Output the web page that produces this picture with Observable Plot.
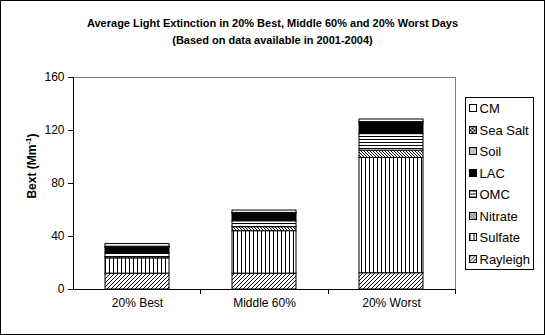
<!DOCTYPE html>
<html><head><meta charset="utf-8">
<script src="https://cdn.jsdelivr.net/npm/d3@7"></script>
<script src="https://cdn.jsdelivr.net/npm/@observablehq/plot@0.6"></script>
<style>
body{margin:0;background:#fff;font-family:"Liberation Sans",Arial,sans-serif;}
#wrap{position:relative;width:545px;height:335px;box-sizing:border-box;border:1px solid #000;background:#fff;overflow:hidden;}
#title{height:54px;text-align:center;font-weight:bold;font-size:11px;line-height:17px;padding-top:14px;box-sizing:border-box;color:#000;}
#chart svg{display:block;}
</style></head><body>
<div id="wrap"><div id="title">Average Light Extinction in 20% Best, Middle 60% and 20% Worst Days<br>(Based on data available in 2001-2004)</div><div id="chart"></div></div>
<script>
const categories = ["20% Best", "Middle 60%", "20% Worst"];
const components = ["Rayleigh", "Sulfate", "Nitrate", "OMC", "LAC", "Soil", "Sea Salt", "CM"];
const rayleigh = [12, 12, 12.3];
const sulfate  = [11.5, 32, 87];
const nitrate  = [1, 3, 5.5];
const omc      = [3, 4.5, 12.5];
const lac      = [4, 5.5, 8];
const soil     = [0.5, 0.5, 0.7];
const seaSalt  = [0.3, 0.3, 0.3];
const cm       = [2, 1.8, 2];
const yTicks   = [0, 40, 80, 120, 160];

const seriesValues = {"Rayleigh": rayleigh, "Sulfate": sulfate, "Nitrate": nitrate, "OMC": omc,
  "LAC": lac, "Soil": soil, "Sea Salt": seaSalt, "CM": cm};
const fills = {"Rayleigh": "url(#p-ray)", "Sulfate": "url(#p-sul)", "Nitrate": "url(#p-nit)", "OMC": "url(#p-omc)",
  "LAC": "#000", "Soil": "url(#p-soil)", "Sea Salt": "url(#p-salt)", "CM": "#fff"};

const rows = [];
categories.forEach((c, i) => components.forEach(k => rows.push({category: c, component: k, value: seriesValues[k][i], fill: fills[k]})));

const W = 543, H = 278, ML = 72, MR = 89, MT = 22, MB = 44;
const plot = Plot.plot({
  width: W, height: H,
  marginLeft: ML, marginRight: MR, marginTop: MT, marginBottom: MB,
  style: {fontFamily: "'Liberation Sans', Arial, sans-serif", fontSize: "12px", color: "#000", background: "#fff"},
  x: {domain: categories, paddingInner: 0.5, paddingOuter: 0.25, label: null, tickSize: 0, tickPadding: 9},
  y: {domain: [0, 160], ticks: yTicks, tickSize: 5, tickPadding: 4, label: null, tickFormat: d => d},
  color: {type: "identity"},
  marks: [
    Plot.frame({stroke: "#808080"}),
    Plot.barY(rows, Plot.stackY({x: "category", y: "value", z: "component", fill: "fill", stroke: "#000", strokeWidth: 1})),
    Plot.ruleY([0], {stroke: "#000"})
  ]
});
document.getElementById("chart").appendChild(plot);

const svg = d3.select(plot);
const defs = svg.insert("defs", ":first-child");
function pat(id, w, h, draw) {
  const p = defs.append("pattern").attr("id", id).attr("patternUnits", "userSpaceOnUse").attr("width", w).attr("height", h);
  p.append("rect").attr("width", w).attr("height", h).attr("fill", "#fff");
  draw(p);
}
pat("p-ray", 4, 4, p => p.append("path").attr("d", "M0,4L4,0M-1,1L1,-1M3,5L5,3").attr("stroke", "#000").attr("stroke-width", 1));
pat("p-sul", 4, 4, p => p.append("rect").attr("x", 0).attr("y", 0).attr("width", 1).attr("height", 4).attr("fill", "#000"));
pat("p-nit", 3, 3, p => p.append("path").attr("d", "M0,0L3,3M2,-1L4,1M-1,2L1,4").attr("stroke", "#000").attr("stroke-width", 1));
pat("p-omc", 4, 3, p => p.append("rect").attr("x", 0).attr("y", 0).attr("width", 4).attr("height", 1).attr("fill", "#000"));
pat("p-soil", 2, 2, p => p.append("rect").attr("x", 0).attr("y", 0).attr("width", 1).attr("height", 1).attr("fill", "#000"));
pat("p-salt", 4, 4, p => { p.append("rect").attr("width", 2).attr("height", 2).attr("fill", "#000"); p.append("rect").attr("x", 2).attr("y", 2).attr("width", 2).attr("height", 2).attr("fill", "#000"); });

const x0 = ML, x1 = W - MR, y0 = H - MB, y1 = MT;
// y axis line
svg.append("line").attr("x1", x0 + 0.5).attr("x2", x0 + 0.5).attr("y1", y1).attr("y2", y0).attr("stroke", "#000");
// x tick marks at category boundaries
const step = (x1 - x0) / categories.length;
for (let k = 1; k <= categories.length; k++) {
  const xx = Math.round(x0 + k * step) + 0.5;
  svg.append("line").attr("x1", xx).attr("x2", xx).attr("y1", y0).attr("y2", y0 + 5).attr("stroke", "#000");
}
// y axis title
const yt = svg.append("text").attr("transform", "translate(35,111) rotate(-90)").attr("text-anchor", "middle")
  .attr("font-weight", "bold").attr("font-size", 12).attr("fill", "#000");
yt.append("tspan").text("Bext (Mm");
yt.append("tspan").attr("font-size", 8).attr("dy", -5).text("-1");
yt.append("tspan").attr("dy", 5).text(")");

// legend
const lg = svg.append("g").attr("transform", "translate(464.5,42.5)").attr("text-anchor", "start");
lg.append("rect").attr("width", 68).attr("height", 172).attr("fill", "#fff").attr("stroke", "#000");
components.slice().reverse().forEach((k, i) => {
  const cy = 11 + i * 21.5;
  lg.append("rect").attr("x", 4).attr("y", Math.round(cy - 4)).attr("width", 7).attr("height", 7).attr("fill", fills[k]).attr("stroke", "#000");
  lg.append("text").attr("x", 14).attr("y", cy).attr("dy", "0.35em").attr("text-anchor", "start").attr("font-size", 13).attr("fill", "#000").text(k);
});
</script>
</body></html>
